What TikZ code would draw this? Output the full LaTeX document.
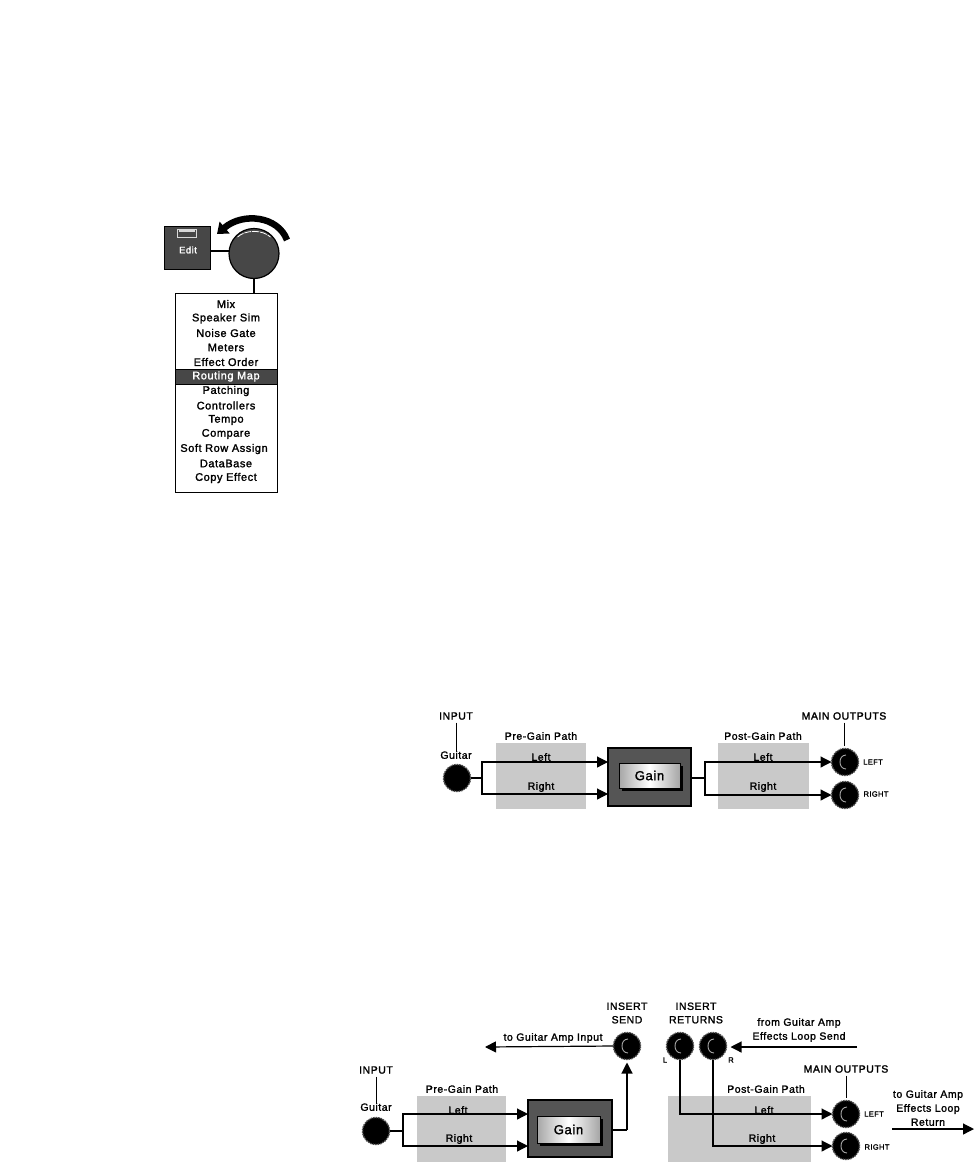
\documentclass[tikz,border=0pt]{standalone}
\usepackage{fontspec}
\setmainfont{Liberation Sans}
\newfontfamily\blurfont[LetterSpace=5,FakeBold=1.6]{Liberation Sans}
\usetikzlibrary{arrows.meta,calc,shadings}
\definecolor{pathgray}{HTML}{C9C9C9}
\definecolor{boxdark}{HTML}{555555}
\definecolor{knobfill}{HTML}{474747}
\tikzset{
  x=1pt,y=-1pt,
  every node/.style={inner sep=0pt,outer sep=0pt},
  lab/.style={font=\blurfont\fontsize{10.5}{12}\selectfont,align=center},
  menulab/.style={font=\blurfont\fontsize{11}{12}\selectfont},
  smalllab/.style={font=\blurfont\fontsize{7.5}{9}\selectfont},
  wire/.style={line width=1.2pt,black},
  arrowwire/.style={wire,-{Triangle[length=11pt,width=11pt]},shorten >=0pt},
  tick/.style={line width=1pt,black},
  gainpath/.style={fill=pathgray,draw=none,anchor=north west},
  jackbody/.style={circle,fill=black,draw=black!70,line width=1.4pt,dash pattern=on 1.5pt off 1pt,minimum size=27pt},
  gainouter/.style={fill=boxdark,draw=black,line width=1.2pt,anchor=north west},
  gainbtn/.style={draw=black,line width=1pt,anchor=north west,left color=black!35,right color=black!35,middle color=white,font=\blurfont\fontsize{13}{14}\selectfont},
}
\newcommand{\jackat}[3]{%
  \node[jackbody] (#1) at (#2,#3) {};
  \draw[black!35,line width=.9pt] ($(#1)+(1,-7)$) .. controls ($(#1)+(-7,-7)$) and ($(#1)+(-7,7)$) .. ($(#1)+(1,7)$);
}
\newcommand{\plainjack}[3]{%
  \node[jackbody] (#1) at (#2,#3) {};
}
\newcommand{\gainbox}[9]{%
  % name x y w h | bx by bw bh
  \node[gainouter,minimum width=#4pt,minimum height=#5pt] (#1) at (#2,#3) {};
  \fill[black] (#6+3,#7+3) rectangle ++(#8,#9);
  \node[gainbtn,minimum width=#8pt,minimum height=#9pt] (#1btn) at (#6,#7) {Gain};
}
\begin{document}
\begin{tikzpicture}
\useasboundingbox (0,0) rectangle (974,1162);
\fill[white] (0,0) rectangle (974,1162);

% ---------- Edit / knob / menu ----------
\node[fill=knobfill,draw=black,line width=.5pt,anchor=north west,minimum width=46pt,minimum height=43pt] (edit) at (164,226) {};
\node[draw=white!85!black,fill=knobfill,line width=1pt,minimum width=19pt,minimum height=8pt] (slot) at (187,233.5) {};
\fill[white!85!black] (179,229.5) rectangle (195,232);
\node[font=\blurfont\fontsize{9.5}{11}\selectfont,text=white] (editlab) at (188,250) {Edit};
\node[circle,fill=knobfill,draw=black,line width=1.2pt,minimum size=50pt] (knob) at (254,253.5) {};
\draw[wire,line width=1.6pt] (edit.east |- 0,251) -- (knob.west |- 0,251);
\coordinate (arcstart) at (287,240);
\coordinate (arcc1) at (278,216);
\coordinate (arcc2) at (243,212);
\coordinate (arcend) at (217,234);
\draw[line width=6.5pt,black,-{Triangle[length=10pt,width=15pt]}] (arcstart) .. controls (arcc1) and (arcc2) .. (arcend);
\draw[white,line width=.8pt,dash pattern=on 7pt off 1pt] ($(knob)+(-16.5,-16.5)$) .. controls ($(knob)+(-8,-24)$) and ($(knob)+(8,-24)$) .. ($(knob)+(16.5,-16.5)$);
\node[draw=black,fill=white,line width=.9pt,anchor=north west,minimum width=102pt,minimum height=199pt] (menu) at (175,293) {};
\draw[line width=1.6pt] (knob.south) -- (knob.south |- menu.north);
\node[fill=knobfill,draw=black,line width=.5pt,anchor=north west,minimum width=102pt,minimum height=15pt] (hl) at (175,369) {};
\node[menulab] (m1) at (226,304) {Mix};
\node[menulab] (m2) at (226,318.5) {Speaker Sim};
\node[menulab] (m3) at (226,333) {Noise Gate};
\node[menulab] (m4) at (226,347.5) {Meters};
\node[menulab] (m5) at (226,362) {Effect Order};
\node[menulab,text=white] (m6) at (226,376.5) {Routing Map};
\node[menulab] (m7) at (226,391) {Patching};
\node[menulab] (m8) at (226,405.5) {Controllers};
\node[menulab] (m9) at (226,420) {Tempo};
\node[menulab] (m10) at (226,434) {Compare};
\node[menulab] (m11) at (224,449) {Soft Row Assign};
\node[menulab] (m12) at (226,463.5) {DataBase};
\node[menulab] (m13) at (226,478) {Copy Effect};

% ---------- Middle diagram ----------
\node[gainpath,minimum width=90pt,minimum height=66pt] (preA) at (496,743) {};
\node[gainpath,minimum width=91pt,minimum height=66pt] (postA) at (718,743) {};
\gainbox{gainA}{608}{748}{83}{58}{619}{763}{61}{25}
\plainjack{inA}{457}{778}
\jackat{outLA}{845}{762}
\jackat{outRA}{845}{795}
\node[lab] (inputA) at (456,716) {INPUT};
\node[lab] (guitarA) at (456,755) {Guitar};
\draw[tick] ($(inputA.south)+(0,3)$) -- (guitarA.north);
\node[lab] (mainA) at (844,716) {MAIN OUTPUTS};
\draw[tick] ($(mainA.south)+(0,3)$) -- ($(outLA.north)+(-1,-3)$);
\node[lab] (preTA) at (541,736) {Pre-Gain Path};
\node[lab] (postTA) at (763,736) {Post-Gain Path};
\coordinate (jA) at (482,778);
\coordinate (jB) at (705,778);
\draw[wire] (inA.east) -- (jA);
\draw[arrowwire] (jA) |- (gainA.west |- 0,762);
\draw[arrowwire] (jA) |- (gainA.west |- 0,794);
\draw[wire] (gainA.east |- jB) -- (jB);
\draw[arrowwire] (jB) |- (outLA.west);
\draw[arrowwire] (jB) |- (outRA.west);
\node[lab] (lA) at (541,757) {Left};
\node[lab] (rA) at (541,787) {Right};
\node[lab] (lB) at (763,757) {Left};
\node[lab] (rB) at (763,787) {Right};
\node[smalllab] (lefA) at (873,762) {LEFT};
\node[smalllab] (rigA) at (876,794) {RIGHT};

% ---------- Bottom diagram ----------
\node[gainpath,minimum width=89pt,minimum height=66pt] (preB) at (417,1096) {};
\node[gainpath,minimum width=143pt,minimum height=66pt] (postB) at (668,1096) {};
\gainbox{gainB}{528}{1100}{84}{57}{537}{1116}{63}{27}
\plainjack{inB}{376}{1131}
\jackat{send}{627}{1046}
\jackat{retL}{680}{1046}
\jackat{retR}{713}{1046}
\jackat{outLB}{846}{1114}
\jackat{outRB}{846}{1146}
\node[lab] (inputB) at (376,1070) {INPUT};
\node[lab] (guitarB) at (376,1107) {Guitar};
\draw[tick] ($(inputB.south)+(0,3)$) -- (guitarB.north);
\node[lab] (mainB) at (846,1069) {MAIN OUTPUTS};
\draw[tick] ($(mainB.south)+(0,3)$) -- ($(outLB.north)+(0,-3)$);
\node[lab] (preTB) at (462,1089) {Pre-Gain Path};
\node[lab] (postTB) at (766,1089) {Post-Gain Path};
\node[lab] (sendT) at (627,1013) {INSERT\\[1.5pt]SEND};
\node[lab] (retT) at (696,1013) {INSERT\\[1.5pt]RETURNS};
\coordinate (jC) at (403,1131);
\coordinate (jD) at (627,1130);
\coordinate (ampin) at (485,1047);
\coordinate (fromamp) at (857,1047);
\coordinate (toampA) at (892,1129);
\coordinate (toampB) at (974,1129);
\draw[wire] (inB.east) -- (jC);
\draw[arrowwire] (jC) |- (gainB.west |- 0,1114);
\draw[arrowwire] (jC) |- (gainB.west |- 0,1146);
\draw[wire] (gainB.east |- jD) -- (jD);
\draw[arrowwire] (jD) -- ($(send.south)+(0,3)$);
\draw[arrowwire] (send.west) -- (ampin);
\draw[arrowwire] (fromamp) -- ($(retR.east)+(4,1)$);
\draw[arrowwire] (retL.south) |- (outLB.west);
\draw[arrowwire] (retR.south) |- (outRB.west);
\draw[arrowwire] (toampA) -- (toampB);
\node[lab] (lC) at (458,1110) {Left};
\node[lab] (rC) at (459,1139) {Right};
\node[lab] (lD) at (764,1110) {Left};
\node[lab] (rD) at (762,1139) {Right};
\node[lab] (toin) at (553,1038) {to Guitar Amp Input};
\node[lab] (fromT) at (799,1030) {from Guitar Amp\\[2pt]Effects Loop Send};
\node[lab] (toT) at (928,1108) {to Guitar Amp\\[2pt]Effects Loop\\[2pt]Return};
\node[smalllab] (lefB) at (874,1114) {LEFT};
\node[smalllab] (rigB) at (877,1147) {RIGHT};
\node[smalllab] (lL) at (665,1060) {L};
\node[smalllab] (lR) at (731,1060) {R};
\end{tikzpicture}
\end{document}
